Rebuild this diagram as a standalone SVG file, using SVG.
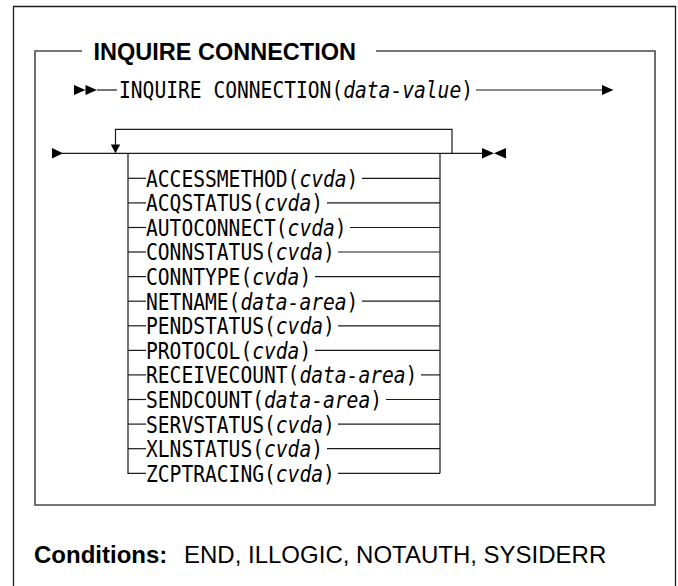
<svg xmlns="http://www.w3.org/2000/svg" width="678" height="586" viewBox="0 0 678 586">
  <style>
    .frame { fill: none; stroke: #1a1a1a; stroke-width: 1.3; }
    .panel { fill: none; stroke: #4a4a4a; stroke-width: 1.6; }
    .rail { fill: none; stroke: #1a1a1a; stroke-width: 1.2; }
    .head { fill: #000; }
    .title { font-family: "Liberation Sans", Arial, sans-serif; font-weight: bold; font-size: 23.5px; fill: #000; }
    .cond { font-family: "Liberation Sans", Arial, sans-serif; font-size: 24px; fill: #000; }
    .kw { font-family: "DejaVu Sans Mono", "Liberation Mono", monospace; font-size: 23px; fill: #000; }
    .var { font-style: italic; }
  </style>

  <!-- outer page frame (open at the bottom) -->
  <path class="frame" d="M13.5,592 V6.5 H675.5 V592"/>

  <!-- syntax panel with its heading set into the top edge -->
  <g id="panel">
    <path class="panel" d="M82,51 H35 V505 H655 V51 H376"/>
    <text class="title" x="93.5" y="60">INQUIRE CONNECTION</text>
  </g>

  <!-- first rail: command keyword -->
  <g id="command">
    <path class="head" d="M74,85 L85.5,90 L74,95 Z M85.5,85 L97,90 L85.5,95 Z"/>
    <text class="kw" x="119" y="98.4" textLength="354" lengthAdjust="spacingAndGlyphs">INQUIRE CONNECTION(<tspan class="var">data-value</tspan>)</text>
  </g>

  <!-- rails, repeat loop and option branches -->
  <g id="connectors">
    <line class="rail" x1="97" y1="90" x2="117" y2="90"/>
    <line class="rail" x1="476" y1="90" x2="603" y2="90"/>
    <path class="head" d="M602,85 L613.5,90 L602,95 Z"/>

    <path class="head" d="M52,148 L63,153.3 L52,158.6 Z"/>
    <line class="rail" x1="62" y1="153.3" x2="483" y2="153.3"/>
    <path class="head" d="M482,148 L494,153.3 L482,158.6 Z M506,148 L494,153.3 L506,158.6 Z"/>

    <!-- repeat loop -->
    <path class="rail" d="M452,153.3 V129.3 H115.5 V146"/>
    <path class="head" d="M110.8,144.5 L120.2,144.5 L115.5,153.3 Z"/>

    <!-- option bracket -->
    <path class="rail" d="M128,153.3 V473.3 H146"/>
    <line class="rail" x1="440" y1="153.3" x2="440" y2="473.3"/>

    <line class="rail" x1="128" y1="178.3" x2="146" y2="178.3"/>
    <line class="rail" x1="128" y1="202.9" x2="146" y2="202.9"/>
    <line class="rail" x1="128" y1="227.5" x2="146" y2="227.5"/>
    <line class="rail" x1="128" y1="252.0" x2="146" y2="252.0"/>
    <line class="rail" x1="128" y1="276.6" x2="146" y2="276.6"/>
    <line class="rail" x1="128" y1="301.2" x2="146" y2="301.2"/>
    <line class="rail" x1="128" y1="325.8" x2="146" y2="325.8"/>
    <line class="rail" x1="128" y1="350.4" x2="146" y2="350.4"/>
    <line class="rail" x1="128" y1="374.9" x2="146" y2="374.9"/>
    <line class="rail" x1="128" y1="399.5" x2="146" y2="399.5"/>
    <line class="rail" x1="128" y1="424.1" x2="146" y2="424.1"/>
    <line class="rail" x1="128" y1="448.7" x2="146" y2="448.7"/>

    <line class="rail" x1="362" y1="178.3" x2="440" y2="178.3"/>
    <line class="rail" x1="327" y1="202.9" x2="440" y2="202.9"/>
    <line class="rail" x1="350" y1="227.5" x2="440" y2="227.5"/>
    <line class="rail" x1="338" y1="252.0" x2="440" y2="252.0"/>
    <line class="rail" x1="315" y1="276.6" x2="440" y2="276.6"/>
    <line class="rail" x1="362" y1="301.2" x2="440" y2="301.2"/>
    <line class="rail" x1="338" y1="325.8" x2="440" y2="325.8"/>
    <line class="rail" x1="315" y1="350.4" x2="440" y2="350.4"/>
    <line class="rail" x1="421" y1="374.9" x2="440" y2="374.9"/>
    <line class="rail" x1="386" y1="399.5" x2="440" y2="399.5"/>
    <line class="rail" x1="338" y1="424.1" x2="440" y2="424.1"/>
    <line class="rail" x1="327" y1="448.7" x2="440" y2="448.7"/>
    <line class="rail" x1="338" y1="473.3" x2="440" y2="473.3"/>
  </g>

  <!-- options -->
  <g id="opt-accessmethod"><text class="kw" x="146" y="186.7" textLength="212.4" lengthAdjust="spacingAndGlyphs">ACCESSMETHOD(<tspan class="var">cvda</tspan>)</text></g>
  <g id="opt-acqstatus"><text class="kw" x="146" y="211.3" textLength="177" lengthAdjust="spacingAndGlyphs">ACQSTATUS(<tspan class="var">cvda</tspan>)</text></g>
  <g id="opt-autoconnect"><text class="kw" x="146" y="235.9" textLength="200.6" lengthAdjust="spacingAndGlyphs">AUTOCONNECT(<tspan class="var">cvda</tspan>)</text></g>
  <g id="opt-connstatus"><text class="kw" x="146" y="260.4" textLength="188.8" lengthAdjust="spacingAndGlyphs">CONNSTATUS(<tspan class="var">cvda</tspan>)</text></g>
  <g id="opt-conntype"><text class="kw" x="146" y="285.0" textLength="165.2" lengthAdjust="spacingAndGlyphs">CONNTYPE(<tspan class="var">cvda</tspan>)</text></g>
  <g id="opt-netname"><text class="kw" x="146" y="309.6" textLength="212.4" lengthAdjust="spacingAndGlyphs">NETNAME(<tspan class="var">data-area</tspan>)</text></g>
  <g id="opt-pendstatus"><text class="kw" x="146" y="334.2" textLength="188.8" lengthAdjust="spacingAndGlyphs">PENDSTATUS(<tspan class="var">cvda</tspan>)</text></g>
  <g id="opt-protocol"><text class="kw" x="146" y="358.8" textLength="165.2" lengthAdjust="spacingAndGlyphs">PROTOCOL(<tspan class="var">cvda</tspan>)</text></g>
  <g id="opt-receivecount"><text class="kw" x="146" y="383.3" textLength="271.4" lengthAdjust="spacingAndGlyphs">RECEIVECOUNT(<tspan class="var">data-area</tspan>)</text></g>
  <g id="opt-sendcount"><text class="kw" x="146" y="407.9" textLength="236" lengthAdjust="spacingAndGlyphs">SENDCOUNT(<tspan class="var">data-area</tspan>)</text></g>
  <g id="opt-servstatus"><text class="kw" x="146" y="432.5" textLength="188.8" lengthAdjust="spacingAndGlyphs">SERVSTATUS(<tspan class="var">cvda</tspan>)</text></g>
  <g id="opt-xlnstatus"><text class="kw" x="146" y="457.1" textLength="177" lengthAdjust="spacingAndGlyphs">XLNSTATUS(<tspan class="var">cvda</tspan>)</text></g>
  <g id="opt-zcptracing"><text class="kw" x="146" y="481.7" textLength="188.8" lengthAdjust="spacingAndGlyphs">ZCPTRACING(<tspan class="var">cvda</tspan>)</text></g>

  <!-- condition list -->
  <g id="conditions">
    <text class="cond" x="34" y="563"><tspan font-weight="bold">Conditions:</tspan><tspan x="184">END, ILLOGIC, NOTAUTH, SYSIDERR</tspan></text>
  </g>
</svg>
